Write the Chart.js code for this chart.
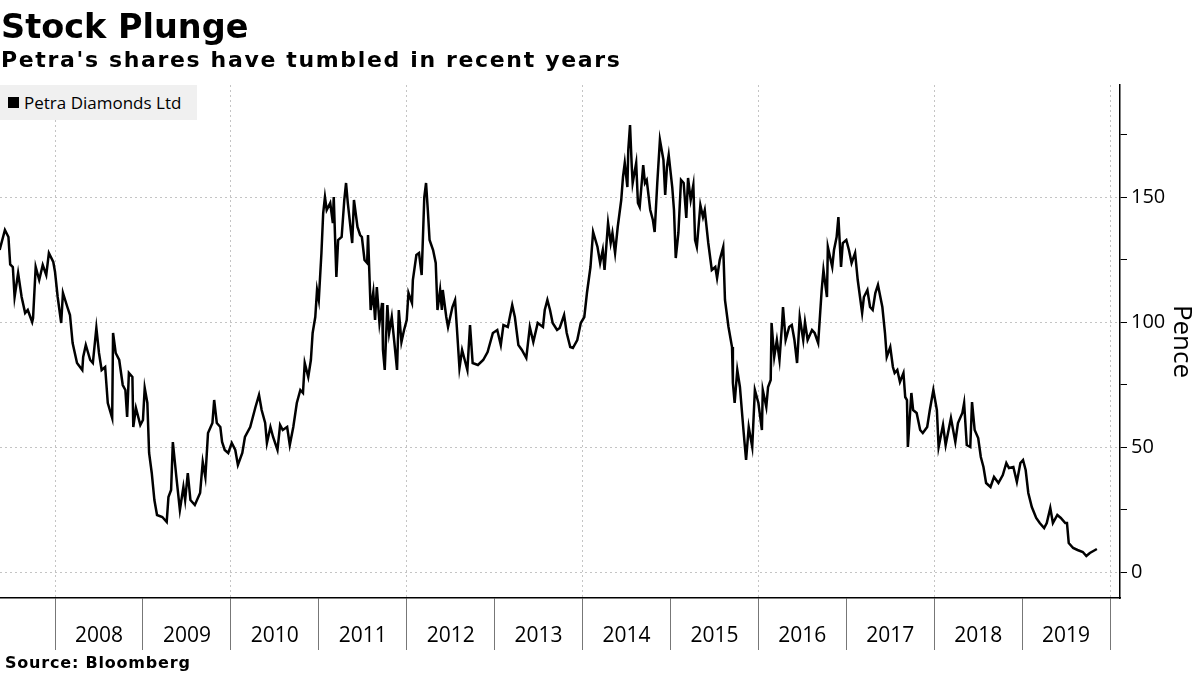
<!DOCTYPE html>
<html>
<head>
<meta charset="utf-8">
<script src="https://cdn.jsdelivr.net/npm/chart.js@4.4.0/dist/chart.umd.min.js"></script>
<style>
  body { margin: 0; background: #fff; }
  #wrap { position: relative; width: 1200px; height: 675px; overflow: hidden; font-family: 'Open Sans', sans-serif; color: #000; }
  #chart { position: absolute; left: 0; top: 0; }
  .title { position: absolute; left: 1px; top: 10px; font-family: 'DejaVu Sans', sans-serif; font-size: 33.5px; font-weight: 700; line-height: 1; white-space: nowrap; }
  .subtitle { position: absolute; left: 1px; top: 49px; font-family: 'DejaVu Sans', sans-serif; font-size: 22px; font-weight: 700; line-height: 1; letter-spacing: 1.65px; white-space: nowrap; }
  .source { position: absolute; left: 5px; top: 655px; font-family: 'DejaVu Sans', sans-serif; font-size: 16px; font-weight: 700; line-height: 1; letter-spacing: 0.8px; white-space: nowrap; }
  #legend { position: absolute; left: 0; top: 85px; width: 197px; height: 35px; background: #f0f0f0; }
  #legend .box { position: absolute; left: 8px; top: 12px; width: 11px; height: 11px; background: #000; }
  #legend .txt { position: absolute; left: 24px; top: 6px; font-size: 17px; line-height: 23px; white-space: nowrap; }
</style>
</head>
<body>
<div id="wrap">
  <canvas id="chart" width="1200" height="675"></canvas>
  <div class="title">Stock Plunge</div>
  <div class="subtitle">Petra's shares have tumbled in recent years</div>
  <div id="legend"><div class="box"></div><div class="txt">Petra Diamonds Ltd</div></div>
  <div class="source">Source: Bloomberg</div>
</div>
<script>
'use strict';

// dates as decimal years
let years = [
  2007.37, 2007.43, 2007.47, 2007.49, 2007.52, 2007.54, 2007.58, 2007.62, 2007.66, 2007.69,
  2007.74, 2007.75, 2007.78, 2007.82, 2007.86, 2007.90, 2007.93, 2007.98, 2008.00, 2008.03,
  2008.07, 2008.09, 2008.14, 2008.17, 2008.20, 2008.25, 2008.31, 2008.32, 2008.35, 2008.40,
  2008.43, 2008.47, 2008.50, 2008.53, 2008.57, 2008.60, 2008.65, 2008.66, 2008.69, 2008.73,
  2008.77, 2008.80, 2008.82, 2008.84, 2008.88, 2008.89, 2008.92, 2008.97, 2009.00, 2009.02,
  2009.05, 2009.07, 2009.10, 2009.13, 2009.16, 2009.22, 2009.27, 2009.29, 2009.32, 2009.34,
  2009.38, 2009.42, 2009.46, 2009.48, 2009.51, 2009.54, 2009.59, 2009.65, 2009.68, 2009.71,
  2009.74, 2009.79, 2009.81, 2009.84, 2009.88, 2009.90, 2009.93, 2009.97, 2010.01, 2010.05,
  2010.08, 2010.13, 2010.16, 2010.22, 2010.28, 2010.32, 2010.35, 2010.39, 2010.41, 2010.45,
  2010.48, 2010.53, 2010.56, 2010.59, 2010.64, 2010.67, 2010.71, 2010.75, 2010.79, 2010.82,
  2010.84, 2010.88, 2010.91, 2010.93, 2010.96, 2010.98, 2011.00, 2011.03, 2011.05, 2011.07,
  2011.09, 2011.13, 2011.16, 2011.17, 2011.20, 2011.22, 2011.26, 2011.29, 2011.31, 2011.33,
  2011.38, 2011.40, 2011.44, 2011.47, 2011.49, 2011.52, 2011.55, 2011.56, 2011.59, 2011.62,
  2011.64, 2011.66, 2011.69, 2011.72, 2011.73, 2011.75, 2011.78, 2011.80, 2011.83, 2011.86,
  2011.89, 2011.91, 2011.94, 2011.97, 2012.00, 2012.02, 2012.06, 2012.07, 2012.11, 2012.14,
  2012.17, 2012.20, 2012.22, 2012.24, 2012.26, 2012.30, 2012.33, 2012.35, 2012.38, 2012.40,
  2012.41, 2012.45, 2012.47, 2012.52, 2012.55, 2012.57, 2012.60, 2012.63, 2012.66, 2012.69,
  2012.72, 2012.75, 2012.81, 2012.87, 2012.92, 2012.98, 2013.03, 2013.07, 2013.10, 2013.15,
  2013.20, 2013.23, 2013.27, 2013.31, 2013.36, 2013.40, 2013.44, 2013.49, 2013.55, 2013.57,
  2013.60, 2013.63, 2013.66, 2013.71, 2013.74, 2013.79, 2013.82, 2013.86, 2013.89, 2013.94,
  2013.98, 2014.02, 2014.05, 2014.09, 2014.12, 2014.17, 2014.20, 2014.23, 2014.25, 2014.29,
  2014.32, 2014.34, 2014.37, 2014.40, 2014.44, 2014.46, 2014.48, 2014.51, 2014.52, 2014.54,
  2014.56, 2014.57, 2014.61, 2014.63, 2014.65, 2014.69, 2014.71, 2014.73, 2014.77, 2014.80,
  2014.82, 2014.85, 2014.88, 2014.92, 2014.94, 2014.96, 2014.98, 2015.02, 2015.04, 2015.06,
  2015.09, 2015.12, 2015.15, 2015.18, 2015.20, 2015.23, 2015.26, 2015.28, 2015.30, 2015.34,
  2015.37, 2015.39, 2015.43, 2015.47, 2015.51, 2015.53, 2015.56, 2015.60, 2015.62, 2015.66,
  2015.70, 2015.71, 2015.73, 2015.76, 2015.79, 2015.83, 2015.86, 2015.89, 2015.93, 2015.96,
  2016.00, 2016.04, 2016.05, 2016.09, 2016.11, 2016.14, 2016.15, 2016.18, 2016.21, 2016.24,
  2016.27, 2016.28, 2016.31, 2016.35, 2016.38, 2016.41, 2016.44, 2016.47, 2016.51, 2016.53,
  2016.56, 2016.61, 2016.64, 2016.68, 2016.72, 2016.74, 2016.78, 2016.79, 2016.84, 2016.86,
  2016.89, 2016.91, 2016.94, 2016.96, 2017.00, 2017.03, 2017.06, 2017.10, 2017.13, 2017.18,
  2017.20, 2017.24, 2017.27, 2017.30, 2017.33, 2017.36, 2017.41, 2017.44, 2017.46, 2017.50,
  2017.53, 2017.55, 2017.58, 2017.61, 2017.65, 2017.67, 2017.69, 2017.70, 2017.74, 2017.76,
  2017.80, 2017.84, 2017.87, 2017.92, 2017.95, 2017.99, 2018.03, 2018.05, 2018.10, 2018.13,
  2018.19, 2018.24, 2018.27, 2018.32, 2018.34, 2018.37, 2018.41, 2018.43, 2018.46, 2018.50,
  2018.53, 2018.56, 2018.59, 2018.64, 2018.68, 2018.73, 2018.78, 2018.82, 2018.85, 2018.90,
  2018.94, 2018.98, 2019.01, 2019.04, 2019.07, 2019.11, 2019.16, 2019.20, 2019.25, 2019.28,
  2019.32, 2019.35, 2019.40, 2019.44, 2019.49, 2019.51, 2019.53, 2019.58, 2019.63, 2019.69,
  2019.73, 2019.77, 2019.81, 2019.85
];

// share price in pence
let pence = [
  128.8, 136.8, 134, 123, 122, 110, 119.6, 110, 103.6, 104.8,
  100, 101.6, 122, 116.8, 122.8, 118.8, 127.6, 124, 120, 110,
  99.6, 111.6, 106, 102.8, 91.6, 83.6, 80.8, 86, 90.8, 84.8,
  83.6, 97.6, 87.6, 80.8, 82, 67.6, 61.6, 95.6, 87.6, 84.8,
  74.8, 72.8, 62, 79.6, 78, 58, 65.6, 58.8, 60.8, 73.6,
  67.6, 47.6, 39.6, 28.8, 22.8, 22, 20, 30, 32.8, 52,
  38, 24.8, 34, 28.8, 39.6, 28.8, 26.8, 31.6, 44, 38,
  55.6, 59.6, 68.8, 59.6, 58, 52, 48.8, 47.6, 51.6, 48.8,
  42.8, 47.6, 54, 58, 66, 70.8, 64.8, 59.6, 51.6, 58,
  54, 48.8, 58.8, 56.8, 58, 50.8, 58, 67.6, 72.8, 71.6,
  83.6, 78, 84.8, 95.6, 102, 112.8, 108.8, 127.6, 143.6, 150,
  144.8, 147.6, 139.6, 150, 118, 132.8, 134, 148.8, 155.6, 147.6,
  131.6, 148.8, 138, 134.8, 134, 124.8, 123.6, 134.8, 104.8, 112,
  100.8, 114, 99.6, 107.6, 88.8, 80.8, 106.8, 95.6, 102, 91.6,
  80.8, 104.8, 92, 96.8, 100.8, 111.6, 107.6, 116.8, 126.8, 127.6,
  118.8, 150, 155.6, 144.8, 132.8, 128.8, 123.6, 104.8, 112.8, 104.8,
  112.8, 102, 98, 106, 108.8, 98, 81.6, 88.8, 84.8, 80.8,
  98.8, 83.6, 82.8, 84.8, 88, 95.6, 96.8, 90.8, 98.8, 98,
  106.8, 102, 90.8, 88.8, 85.6, 98, 92, 99.6, 98, 104.8,
  108.8, 104.8, 99.6, 96.8, 97.6, 102.8, 95.6, 90, 89.6, 92.8,
  99.6, 102, 111.6, 122, 136, 130, 123.6, 128.8, 120.8, 139.6,
  131.6, 135.6, 127.6, 138, 148.8, 158, 163.6, 154, 168.8, 178.8,
  162, 155.6, 163.6, 147.6, 146, 162.8, 155.6, 156.8, 144.8, 140.8,
  136, 155.6, 172.8, 164.8, 150.8, 162, 166.8, 154, 144.8, 125.6,
  135.6, 156.8, 155.6, 141.6, 157.6, 148.8, 154.8, 132.8, 130, 146.8,
  142, 144.8, 131.6, 120.8, 122, 117.6, 124.8, 130, 108.8, 98,
  90, 75.6, 67.6, 80.8, 74, 56.8, 44.8, 58, 50, 72.8,
  67.6, 56.8, 72.8, 66, 74, 76.8, 99.6, 86, 92.8, 84.8,
  99.6, 106, 92.8, 98, 98.8, 92.8, 83.6, 102, 92.8, 100,
  92.8, 96.8, 95.6, 91.6, 112.8, 120.8, 110, 130, 122, 128.8,
  134, 142, 122, 131.6, 132.8, 128.8, 123.6, 127.6, 116.8, 103.6,
  110, 112.8, 106, 104.8, 111.6, 114.8, 106, 95.6, 86, 90,
  82, 79.6, 80.8, 76, 79.6, 70, 68.8, 50, 71.6, 64.8,
  63.6, 56.8, 55.6, 58, 64.8, 72.8, 64.8, 50, 58.8, 50.8,
  61.6, 52, 59.6, 63.6, 67.6, 50.8, 50, 68, 56.8, 53.6,
  46, 42, 35.6, 34, 38, 35.6, 38.8, 43.6, 41.6, 42,
  36, 43.6, 44.8, 40.8, 31.6, 26, 21.6, 19.6, 17.6, 19.6,
  25.6, 19.6, 22.8, 21.6, 19.6, 19.6, 11.6, 9.6, 8.8, 8,
  6.4, 7.6, 8.4, 9.2
];

let yearLabels = ['2008', '2009', '2010', '2011', '2012', '2013', '2014', '2015', '2016', '2017', '2018', '2019'];
let yTickValues = [0, 25, 50, 75, 100, 125, 150, 175];
let seriesName = 'Petra Diamonds Ltd';

let points = [];
for (let i = 0; i < years.length; i++) {
  points.push({ x: years[i], y: pence[i] });
}

// year separators plus a label tick in the middle of every year
let xTicks = [];
for (let i = 0; i < yearLabels.length; i++) {
  let yr = Number(yearLabels[i]);
  xTicks.push({ value: yr });
  xTicks.push({ value: yr + 0.5, label: yearLabels[i] });
}
xTicks.push({ value: Number(yearLabels[yearLabels.length - 1]) + 1 });

function isBoundary(v) {
  return Math.abs(v - Math.round(v)) < 0.01;
}

let ctx = document.getElementById('chart').getContext('2d');
let chart = new Chart(ctx, {
  type: 'line',
  data: {
    datasets: [{
      label: seriesName,
      data: points,
      borderColor: '#000',
      borderWidth: 2.5,
      pointRadius: 0,
      tension: 0,
      fill: false
    }]
  },
  options: {
    responsive: false,
    animation: false,
    devicePixelRatio: 1,
    layout: { padding: { top: 85, left: 0, right: 0, bottom: 0 } },
    plugins: {
      legend: { display: false },
      tooltip: { enabled: false }
    },
    scales: {
      x: {
        type: 'linear',
        position: 'bottom',
        min: 2007.374,
        max: 2020.113,
        afterBuildTicks: function (scale) {
          scale.ticks = xTicks.map(t => ({ value: t.value }));
        },
        afterFit: function (scale) {
          scale.height = 77;
        },
        ticks: {
          autoSkip: false,
          maxRotation: 0,
          minRotation: 0,
          padding: -27,
          color: '#000',
          font: { family: 'Open Sans', size: 21 },
          callback: function (value) {
            if (isBoundary(value)) return '';
            return String(Math.floor(value));
          }
        },
        grid: {
          drawOnChartArea: true,
          tickLength: 52,
          lineWidth: 1,
          tickWidth: 1,
          color: function (c) {
            let v = c.tick ? c.tick.value : 0;
            if (isBoundary(v) && Math.round(v) % 2 === 0) return '#c4c4c4';
            return 'rgba(0,0,0,0)';
          },
          tickColor: function (c) {
            let v = c.tick ? c.tick.value : 0;
            return isBoundary(v) ? '#777' : 'rgba(0,0,0,0)';
          },
          tickBorderDash: []
        },
        border: { display: true, color: '#000', width: 1.5, dash: [2, 3] }
      },
      y: {
        type: 'linear',
        position: 'right',
        min: -10.4,
        max: 194.8,
        afterBuildTicks: function (scale) {
          scale.ticks = yTickValues.map(v => ({ value: v }));
        },
        afterFit: function (scale) {
          scale.width = 80;
        },
        ticks: {
          autoSkip: false,
          padding: 4,
          color: '#000',
          font: { family: 'Open Sans', size: 20 },
          callback: function (value) {
            return value % 50 === 0 ? String(value) : '';
          }
        },
        grid: {
          tickLength: 7,
          lineWidth: 1,
          color: function (c) {
            let v = c.tick ? c.tick.value : 1;
            return v % 50 === 0 ? '#c4c4c4' : 'rgba(0,0,0,0)';
          },
          tickColor: '#000',
          tickBorderDash: []
        },
        border: { display: true, color: '#000', width: 1.5, dash: [2, 3] },
        title: {
          display: true,
          text: 'Pence',
          color: '#000',
          font: { family: 'Open Sans', size: 26 },
          padding: { top: 3, bottom: 0 }
        }
      }
    }
  }
});
</script>
</body>
</html>
